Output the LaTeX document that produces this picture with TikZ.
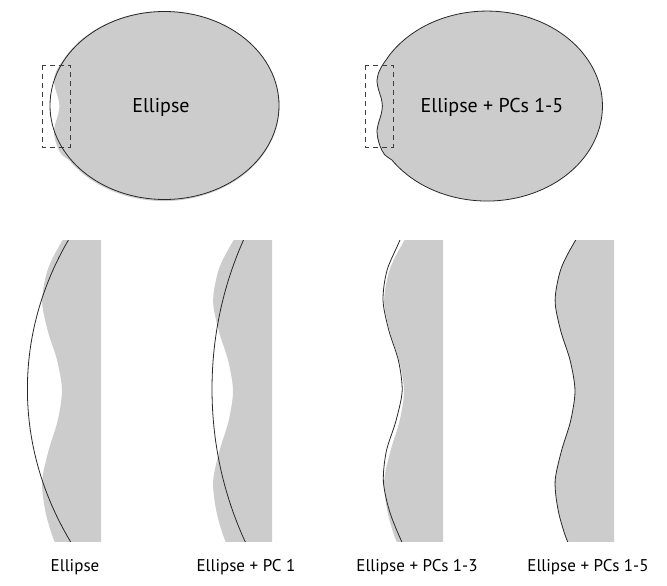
\documentclass[tikz,border=0pt]{standalone}
\usepackage{fontspec}
\setmainfont{PT Sans}
\usepackage{tikz}

\definecolor{shapegray}{RGB}{204,204,204}
\definecolor{fitgray}{RGB}{40,40,40}

% outline of the measured shape (image coordinates, y down)
\newcommand{\trueshape}{(68.9,160) arc[start angle=145.4, end angle=-149.6, x radius=115.5, y radius=95]
  -- plot[smooth] coordinates {(64.4,58.1) (59.6,65) (55.6,72.8) (54,81.4) (55.5,89.6) (58.1,97.8) (59.4,106)
  (58.2,114.2) (55.7,122.4) (54,130.6) (54.9,138.8) (57.4,147) (61.5,154.5) (68.9,160)} -- cycle}

\begin{document}
\begin{tikzpicture}[x=1pt, y=-1pt,
    fitline/.style={draw=fitgray, line width=0.8pt},
    zoombox/.style={draw=fitgray!90, line width=0.8pt, dash pattern=on 5pt off 4pt},
    toptext/.style={font=\fontsize{20}{22}\selectfont, anchor=base},
    captext/.style={font=\fontsize{17}{20}\selectfont, anchor=base}]
    \useasboundingbox (0,0) rectangle (667,586);
    % Shape with plain ellipse
    \fill[shapegray] \trueshape;
    \draw[fitline] (164.5,105.5) ellipse[x radius=114.5, y radius=94];
    \draw[zoombox] (42,65) rectangle (70,147);
    \node[toptext] (ellA) at (161,112) {Ellipse};
    % Shape with PCs 1-5
    \begin{scope}[shift={(323,0)}]
        \fill[shapegray] \trueshape;
        \draw[fitline] \trueshape;
        \draw[zoombox] (42,65) rectangle (70,147);
        \node[toptext] (ellB) at (169,112) {Ellipse + PCs 1-5};
    \end{scope}
    % Zoomed boxes
    \begin{scope}[shift={(101-257.6,0.8)}, scale=3.68]
        \clip (42,65) rectangle (70,147);
        \fill[shapegray] \trueshape;
        \draw[fitline] (164.5,105.5) ellipse[x radius=114.5, y radius=94];
    \end{scope}
    \begin{scope}[shift={(272-257.6,0.8)}, scale=3.68]
        \clip (42,65) rectangle (70,147);
        \fill[shapegray] \trueshape;
        \draw[fitline] (141.7,105.5) ellipse[x radius=88, y radius=94];
    \end{scope}
    \begin{scope}[shift={(443-257.6,0.8)}, scale=3.68]
        \clip (42,65) rectangle (70,147);
        \fill[shapegray] \trueshape;
        \draw[fitline] plot[smooth] coordinates {(60.8,58) (58.3,65) (54.8,73.2) (53.7,81.4) (55.3,89.6)
          (57.9,97.8) (58.9,106) (57.2,114.2) (54.6,122.4) (53.8,130.6) (55.5,138.8) (58.8,147) (62,153)};
    \end{scope}
    \begin{scope}[shift={(614-257.6,0.8)}, scale=3.68]
        \clip (42,65) rectangle (70,147);
        \fill[shapegray] \trueshape;
        \draw[fitline] \trueshape;
    \end{scope}
    % Captions
    \node[captext] (capA) at (75,571) {Ellipse};
    \node[captext] (capB) at (246,571) {Ellipse + PC 1};
    \node[captext] (capC) at (417,571) {Ellipse + PCs 1-3};
    \node[captext] (capD) at (588,571) {Ellipse + PCs 1-5};
\end{tikzpicture}
\end{document}
